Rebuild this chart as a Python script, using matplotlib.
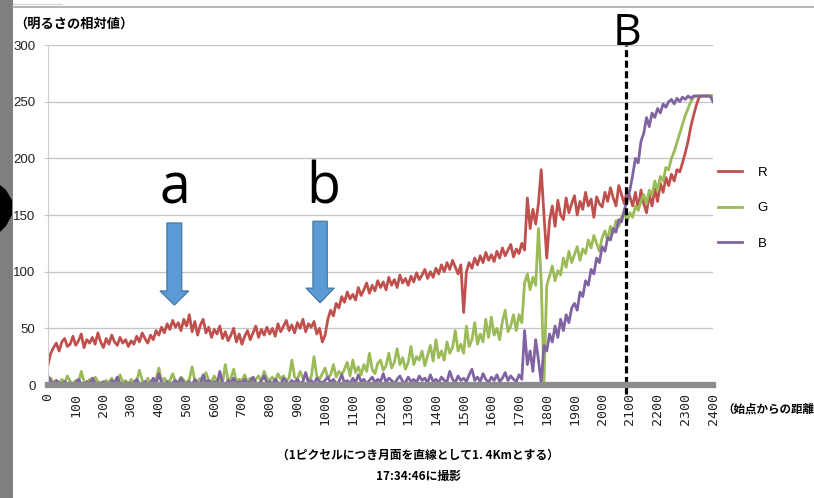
import matplotlib
matplotlib.use("Agg")
import matplotlib.pyplot as plt
from matplotlib.patches import Polygon, Rectangle
from matplotlib.lines import Line2D

# distance from start (pixels), sampled every 10
dist = list(range(0, 2401, 10))

red = [18, 28, 33, 37, 30, 38, 41, 34, 36, 43,
       35, 39, 45, 33, 40, 37, 42, 36, 46, 38,
       33, 41, 36, 44, 38, 35, 42, 37, 40, 34,
       39, 36, 43, 38, 46, 41, 37, 44, 40, 48,
       44, 51, 46, 54, 49, 57, 51, 55, 48, 58,
       52, 62, 47, 56, 44, 53, 58, 46, 51, 42,
       49, 45, 52, 41, 47, 39, 44, 50, 38, 45,
       36, 43, 48, 40, 46, 52, 42, 49, 44, 51,
       45, 50, 43, 54, 47, 52, 57, 48, 53, 46,
       55, 50, 58, 47, 54, 51, 56, 45, 50, 38,
       44, 58, 66, 61, 72, 68, 78, 73, 82, 76,
       80, 75, 86, 79, 84, 90, 81, 88, 83, 92,
       86, 91, 84, 95, 88, 93, 86, 97, 90, 94,
       88, 96, 91, 99, 93, 97, 102, 94, 100, 95,
       103, 98, 106, 100, 108, 102, 110, 104, 98, 106,
       64, 100, 108, 103, 112, 106, 114, 108, 117, 110,
       115, 109, 118, 112, 121, 114, 119, 124, 113, 120,
       116, 125, 119, 165, 138, 155, 142, 160, 190, 150,
       112, 145, 158, 140, 163, 150, 146, 165, 152, 160,
       167, 150, 162, 155, 170, 158, 164, 148, 166, 160,
       157, 170, 162, 174, 165, 158, 176, 168, 160, 172,
       166, 158, 170, 155, 172, 160, 152, 168, 158, 173,
       162, 178, 170, 183, 176, 186, 180, 190, 188, 196,
       205, 215, 228, 238, 247, 254, 255, 255, 255, 255,
       255]

green = [3, 6, 2, 4, 1, 5, 2, 8, 3, 1,
         4, 2, 12, 3, 1, 5, 2, 7, 3, 2,
         1, 4, 2, 6, 1, 3, 9, 2, 4, 1,
         5, 2, 3, 13, 4, 1, 6, 2, 3, 5,
         15, 3, 6, 2, 4, 10, 3, 2, 7, 4,
         2, 5, 16, 4, 3, 6, 2, 11, 4, 3,
         8, 3, 5, 2, 18, 4, 6, 14, 3, 5,
         4, 9, 3, 6, 2, 5, 8, 3, 12, 6,
         4, 7, 3, 10, 5, 8, 4, 6, 22, 7,
         5, 12, 6, 9, 4, 7, 25, 8, 5, 10,
         15, 6, 9, 18, 7, 12, 9, 14, 20, 8,
         22, 11, 16, 9, 18, 12, 28, 14, 10, 19,
         22, 13, 17, 28, 15, 20, 32, 18, 24, 14,
         20, 34, 18, 25, 22, 30, 17, 26, 35, 21,
         40, 24, 30, 22, 38, 28, 33, 48, 30, 36,
         28, 52, 34, 40, 55, 36, 45, 38, 58, 42,
         60, 44, 50, 40, 56, 66, 47, 52, 62, 48,
         62, 55, 90, 98, 84, 95, 88, 138, 92, 3,
         88, 96, 105, 92, 101, 97, 112, 104, 118, 108,
         115, 122, 110, 120, 116, 128, 121, 132, 125, 118,
         130, 136, 128, 140, 134, 145, 140, 148, 152, 144,
         152, 148, 158, 154, 162, 168, 160, 172, 168, 180,
         172, 184, 180, 192, 190, 200, 206, 214, 222, 230,
         238, 244, 250, 254, 255, 255, 255, 255, 255, 255,
         255]

blue = [8, 3, 1, 4, 2, 0, 3, 1, 2, 0,
        2, 5, 1, 0, 3, 1, 6, 2, 0, 1,
        3, 1, 0, 4, 2, 7, 1, 0, 2, 1,
        0, 2, 5, 1, 0, 3, 1, 2, 6, 1,
        10, 2, 1, 3, 0, 2, 4, 1, 6, 2,
        1, 3, 0, 5, 2, 1, 9, 2, 4, 1,
        3, 1, 12, 2, 0, 4, 2, 6, 1, 3,
        2, 5, 1, 3, 7, 2, 0, 4, 8, 2,
        3, 1, 5, 2, 0, 6, 3, 1, 4, 2,
        5, 1, 3, 11, 2, 4, 1, 6, 3, 2,
        4, 7, 2, 5, 1, 3, 9, 2, 4, 1,
        6, 2, 9, 3, 5, 1, 4, 7, 2, 5,
        3, 10, 2, 6, 4, 1, 5, 8, 3, 2,
        7, 3, 5, 2, 8, 4, 6, 2, 9, 3,
        5, 2, 7, 4, 3, 12, 5, 2, 8, 4,
        6, 3, 9, 14, 4, 7, 3, 10, 5, 2,
        7, 4, 9, 3, 6, 11, 4, 8, 5, 3,
        9, 5, 48, 18, 30, 12, 40, 22, 2, 35,
        30, 45, 38, 52, 42, 58, 48, 62, 55, 68,
        72, 66, 82, 78, 92, 88, 102, 98, 112, 108,
        122, 118, 130, 128, 138, 135, 146, 144, 155, 162,
        172, 185, 200, 196, 215, 222, 236, 228, 240, 236,
        244, 240, 248, 245, 250, 252, 248, 253, 250, 254,
        252, 255, 253, 255, 255, 255, 255, 255, 255, 255,
        250]

series_names = ["R", "G", "B"]
colors = ["#C0504D", "#9BBB59", "#8064A2"]

yticks = list(range(0, 301, 50))
xticks = list(range(0, 2401, 100))

JP = ["Noto Sans CJK JP", "DejaVu Sans"]

fig = plt.figure(figsize=(8.14, 4.98), dpi=100)
W, H = 814, 498

def fx(px):
    return px / W

def fy(py):
    return 1 - py / H

ax = fig.add_axes([fx(48), fy(385), fx(713) - fx(48), fy(45) - fy(385)])

for vals, c, name in zip([red, green, blue], colors, series_names):
    ax.plot(dist, vals, color=c, lw=2.0, label=name, solid_joinstyle="round")

ax.set_xlim(0, 2400)
ax.set_ylim(0, 300)
ax.set_yticks(yticks)
ax.set_xticks(xticks)
ax.set_xticklabels([str(v) for v in xticks], rotation=90, family="DejaVu Sans Mono",
                   fontsize=9.5, color="#222222")
ax.set_yticklabels([str(v) for v in yticks], family="Liberation Sans", fontsize=9.5,
                   color="#222222")
ax.tick_params(axis="x", length=0, pad=6)
ax.tick_params(axis="y", length=3, color="#c8c8c8", pad=6)
ax.grid(axis="y", color="#c4c4c4", lw=0.9)
ax.set_axisbelow(True)
for s in ["top", "right"]:
    ax.spines[s].set_visible(False)
ax.spines["left"].set_color("#d0d0d0")
ax.spines["bottom"].set_color("#8d8d8d")
ax.spines["bottom"].set_linewidth(4.5)

# legend
ax.legend(loc="center left", bbox_to_anchor=(1.0075, 0.52), frameon=False,
          borderpad=0, borderaxespad=0, labelspacing=1.75,
          handlelength=1.8, handletextpad=1.2, prop={"family": "Liberation Sans", "size": 9.5})

# dashed marker line at B
ax.plot([2085, 2085], [-8, 300], color="black", lw=2.3, ls=(0, (2.2, 1.1)), clip_on=False)

# blue arrows
def arrow(xc, y_top, y_base, y_tip, half_shaft, half_head):
    pts = [(xc - half_shaft, y_top), (xc + half_shaft, y_top), (xc + half_shaft, y_base),
           (xc + half_head, y_base), (xc, y_tip), (xc - half_head, y_base),
           (xc - half_shaft, y_base)]
    ax.add_patch(Polygon(pts, closed=True, fc="#5B9BD5", ec="#41719C", lw=0.8, zorder=5))

arrow(456, 143, 83, 70.5, 27, 52)
arrow(982, 144.5, 85.5, 72.5, 26, 51)

# letters
fig.text(fx(175), fy(203), "a", fontsize=40, family="Open Sans", ha="center", va="baseline")
fig.text(fx(323), fy(203), "b", fontsize=40, family="Open Sans", ha="center", va="baseline")
fig.text(fx(627), fy(45), "B", fontsize=32, family="Open Sans", ha="center", va="baseline")

# axis captions
fig.text(fx(14), fy(24), "（明るさの相対値）", family=JP, fontsize=9.5, weight="bold",
         ha="left", va="center")
fig.text(fx(722), fy(409), "（始点からの距離", family=JP, fontsize=8.3, weight="bold",
         ha="left", va="center")
fig.text(fx(418), fy(455), "（1ピクセルにつき月面を直線として1. 4Kmとする）", family=JP,
         fontsize=8.5, weight="bold", ha="center", va="center")
fig.text(fx(418), fy(476), "17:34:46に撮影", family=JP, fontsize=8.5, weight="bold",
         ha="center", va="center")

# screenshot framing: grey strip on the left, top rule
fig.patches.append(Rectangle((0, 0), fx(13), 1, transform=fig.transFigure,
                             fc="#7f7f7f", ec="none"))
hexa = [(0, 185), (6, 190), (12, 200), (12, 215), (6, 226), (0, 232)]
fig.patches.append(Polygon([(fx(a), fy(b)) for a, b in hexa], closed=True,
                           transform=fig.transFigure, fc="black", ec="none"))
fig.lines.append(Line2D([fx(13), 1], [fy(7), fy(7)], transform=fig.transFigure,
                        color="#a8a8a8", lw=1.2))
fig.lines.append(Line2D([fx(13), fx(62)], [fy(4), fy(4)], transform=fig.transFigure,
                        color="#d0d0d0", lw=0.8))

fig.savefig("out.png", dpi=100)
